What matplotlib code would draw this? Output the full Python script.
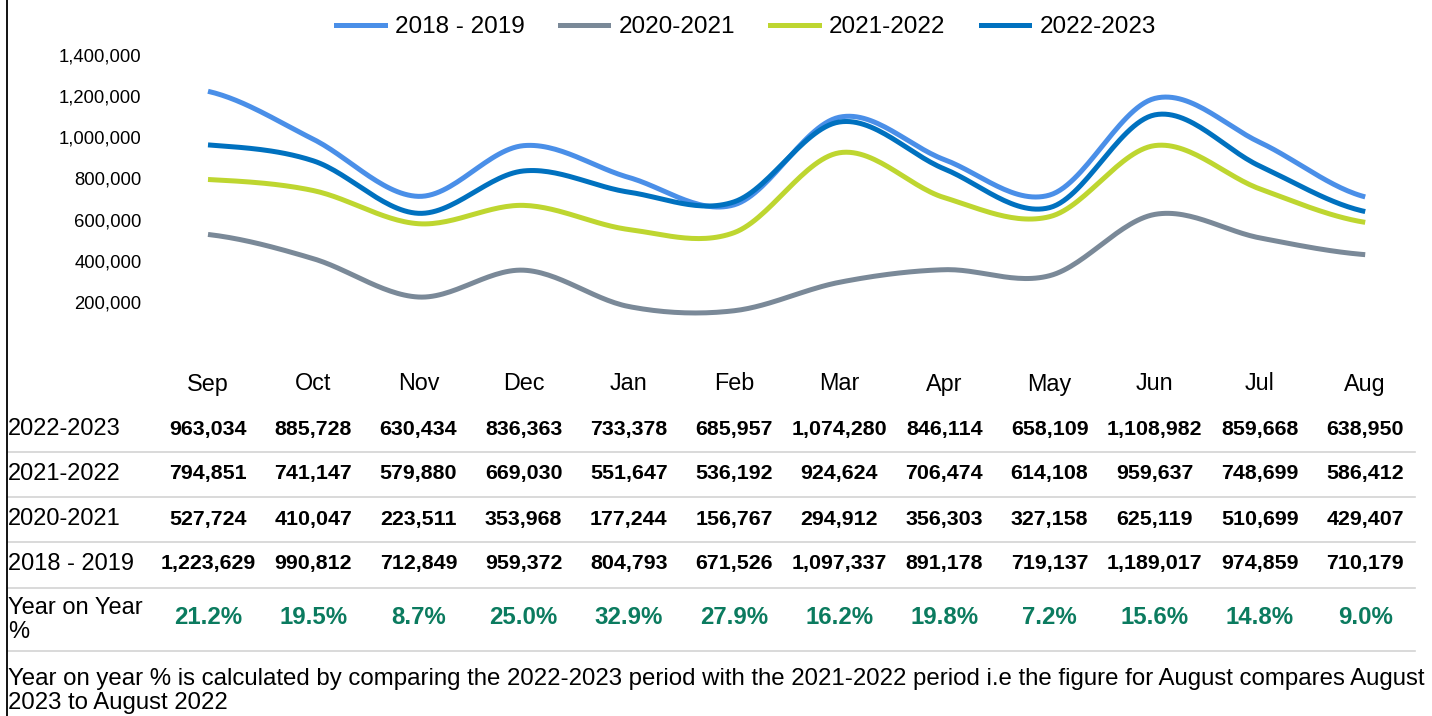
import numpy as np
import matplotlib.pyplot as plt
from matplotlib.lines import Line2D
import matplotlib.transforms as mtransforms

plt.rcParams['font.family'] = ['Liberation Sans', 'DejaVu Sans']

months = ['Sep', 'Oct', 'Nov', 'Dec', 'Jan', 'Feb', 'Mar', 'Apr', 'May', 'Jun', 'Jul', 'Aug']
s2018 = [1223629, 990812, 712849, 959372, 804793, 671526, 1097337, 891178, 719137, 1189017, 974859, 710179]
s2020 = [527724, 410047, 223511, 353968, 177244, 156767, 294912, 356303, 327158, 625119, 510699, 429407]
s2021 = [794851, 741147, 579880, 669030, 551647, 536192, 924624, 706474, 614108, 959637, 748699, 586412]
s2022 = [963034, 885728, 630434, 836363, 733378, 685957, 1074280, 846114, 658109, 1108982, 859668, 638950]
yoy = ['21.2%', '19.5%', '8.7%', '25.0%', '32.9%', '27.9%', '16.2%', '19.8%', '7.2%', '15.6%', '14.8%', '9.0%']

series = [
    ('2018 - 2019', s2018, '#4A8FE8'),
    ('2020-2021', s2020, '#7A8998'),
    ('2021-2022', s2021, '#BED630'),
    ('2022-2023', s2022, '#0071BF'),
]
table_rows = [('2022-2023', s2022), ('2021-2022', s2021), ('2020-2021', s2020), ('2018 - 2019', s2018)]

W, H = 1432, 716


def smooth(y, n=30):
    # catmull-rom style smoothing similar to excel smoothed lines
    y = np.asarray(y, dtype=float)
    x = np.arange(len(y), dtype=float)
    p = np.concatenate([[y[0]], y, [y[-1]]])
    xs, ys = [], []
    for i in range(len(y) - 1):
        p0, p1, p2, p3 = p[i], p[i + 1], p[i + 2], p[i + 3]
        t = np.linspace(0, 1, n, endpoint=False)
        yy = 0.5 * ((2 * p1) + (-p0 + p2) * t + (2 * p0 - 5 * p1 + 4 * p2 - p3) * t ** 2
                    + (-p0 + 3 * p1 - 3 * p2 + p3) * t ** 3)
        xs.append(x[i] + t)
        ys.append(yy)
    xs.append([x[-1]])
    ys.append([y[-1]])
    return np.concatenate(xs), np.concatenate(ys)


fig = plt.figure(figsize=(W / 100, H / 100), dpi=100)
ax = fig.add_axes([155.4 / W, 1 - 343 / H, 1262.4 / W, 288 / H])

for name, vals, col in series:
    xs, ys = smooth(vals)
    ax.plot(xs, ys, color=col, lw=3.6, solid_capstyle='butt', clip_on=False)

ax.set_xlim(-0.5, 11.5)
ax.set_ylim(0, 1400000)
ax.set_yticks(np.arange(200000, 1400001, 200000))
ax.yaxis.set_major_formatter(plt.FuncFormatter(lambda v, p: f'{int(v):,}'))
ax.tick_params(axis='y', length=0, pad=10, labelsize=13.3)
ax.set_xticks([])
for sp in ax.spines.values():
    sp.set_visible(False)

handles = [Line2D([], [], color=c, lw=3.6) for _, _, c in series]
fig.legend(handles, [n for n, _, _ in series], loc='center', bbox_to_anchor=(746 / W, 1 - 27 / H),
           ncol=4, frameon=False, fontsize=17.5, handlelength=2.0, columnspacing=1.45,
           handletextpad=0.42)


def fy(y):
    return 1 - y / H


# table below the chart, columns aligned with the chart's x scale
trans = mtransforms.blended_transform_factory(ax.transData, fig.transFigure)
for i, m in enumerate(months):
    fig.text(i, fy(384), m, transform=trans, ha='center', va='center', fontsize=16.8)

row_y = [429, 474, 519, 564]
for (label, vals), y in zip(table_rows, row_y):
    fig.text(8 / W, fy(y), label, ha='left', va='center', fontsize=17)
    for i, v in enumerate(vals):
        fig.text(i, fy(y), f'{v:,}', transform=trans, ha='center', va='center',
                 fontsize=15.4, fontweight='bold')

fig.text(8 / W, fy(620), 'Year on Year\n%', ha='left', va='center', fontsize=17, linespacing=1.15)
for i, v in enumerate(yoy):
    fig.text(i, fy(618), v, transform=trans, ha='center', va='center',
             fontsize=17.3, fontweight='bold', color='#0B7B5F')

for y in [452, 497, 542, 588, 651]:
    fig.add_artist(Line2D([8 / W, 1415 / W], [fy(y), fy(y)], color='#D3D3D3', lw=1.2))

fig.text(8 / W, fy(691), 'Year on year % is calculated by comparing the 2022-2023 period with the '
         '2021-2022 period i.e the figure for August compares August\n2023 to August 2022',
         ha='left', va='center', fontsize=17.3, linespacing=1.15)

fig.add_artist(Line2D([7 / W, 7 / W], [0, 1], color='black', lw=1.3))

fig.savefig('out.png', dpi=100)
